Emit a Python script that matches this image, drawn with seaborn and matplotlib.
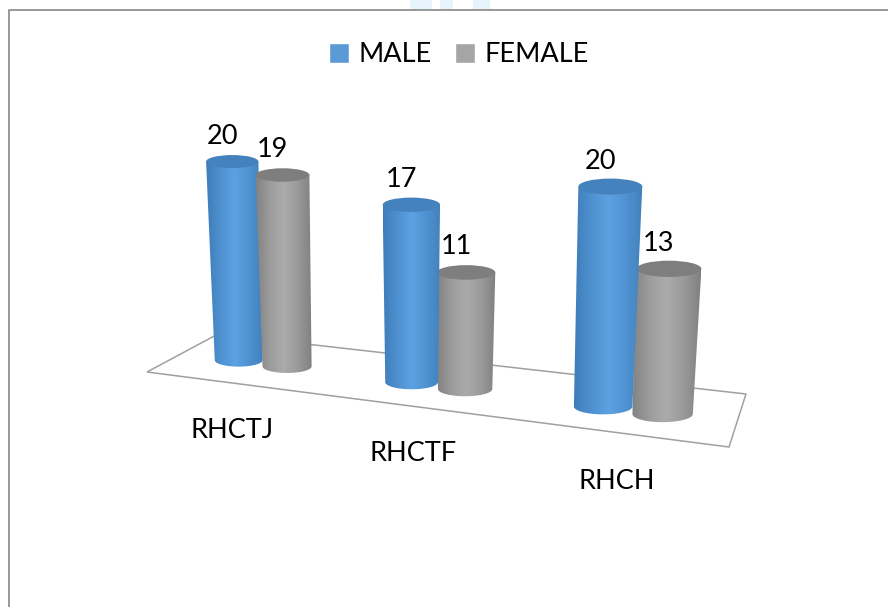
import matplotlib
matplotlib.use("Agg")
import matplotlib.pyplot as plt
import numpy as np
import pandas as pd
import seaborn as sns
from matplotlib.colors import LinearSegmentedColormap
from matplotlib.patches import Ellipse, Polygon, Rectangle

categories = ["RHCTJ", "RHCTF", "RHCH"]
male = [20, 17, 20]
female = [19, 11, 13]
series_names = ["MALE", "FEMALE"]

# one table per hue, long form for seaborn
df = pd.DataFrame({
    "group": categories * 2,
    "series": [series_names[0]] * 3 + [series_names[1]] * 3,
    "count": male + female,
})

sns.set_theme(style="white")
plt.rcParams["font.family"] = ["Lato", "DejaVu Sans"]

# camera fitted on the picture: category position + value -> pixel
PERSP = -0.0488
VANISH_X = 420
VANISH_DEPTH = 5640
TOP_PAD = 1.5


def project(w, v):
    s = 1 / (1 + PERSP * w)
    x = (154.1 * w + 262.5) * s
    base_y = 360 + (x - 237) * 0.127
    h = v * 10 * s
    return x + (x - VANISH_X) * h / VANISH_DEPTH, base_y - h


def cylinder(ax, w0, w1, value, cmap, top_color):
    wc = (w0 + w1) / 2
    xbl = project(w0, 0)[0]
    xbr = project(w1, 0)[0]
    yb = project(wc, 0)[1]
    xtl = project(w0, value)[0] - TOP_PAD
    xtr = project(w1, value)[0] + TOP_PAD
    yt = project(wc, value)[1]
    mid = (xbl + xbr) / 2
    z = 5 - abs(mid - VANISH_X) / 1000

    # side wall, rounded at the foot
    t = np.linspace(np.pi, 0, 40)
    foot_a = (xbr - xbl) / 2
    foot_x = mid + foot_a * np.cos(t)
    foot_y = yb + foot_a * 0.27 * np.sin(t)
    pts = np.vstack([[xtl, yt], np.column_stack([foot_x, foot_y]), [xtr, yt]])
    poly = Polygon(pts, closed=True, fc="none", ec="none", zorder=z)
    ax.add_patch(poly)
    grad = np.linspace(0, 1, 256).reshape(1, -1)
    im = ax.imshow(grad, cmap=cmap, aspect="auto", zorder=z,
                   extent=[min(xtl, xbl), max(xtr, xbr), foot_y.max() + 1, yt - 1])
    im.set_clip_path(poly)

    # lid
    lid = Ellipse(((xtl + xtr) / 2, yt), xtr - xtl, (xtr - xtl) * 0.25,
                  fc=top_color, ec="none", zorder=z + 0.0001)
    ax.add_patch(lid)
    return (xtl + xtr) / 2, yt


fig, ax = plt.subplots(figsize=(8.88, 6.07), dpi=100)
fig.subplots_adjust(left=0, right=1, bottom=0, top=1)

sns.barplot(data=df, x="group", y="count", hue="series", hue_order=series_names,
            palette=["#5b9bd5", "#a5a5a5"], width=0.58, gap=0, saturation=1, ax=ax)

cmaps = [
    LinearSegmentedColormap.from_list("blue", ["#3f7dba", "#4e90cf", "#5ea1e2", "#5093d2", "#4180bc"]),
    LinearSegmentedColormap.from_list("grey", ["#828282", "#9c9c9c", "#ababab", "#9a9a9a", "#808080"]),
]
lid_colors = ["#4482bd", "#7e7e7e"]

# barplot sets the geometry, the cylinders are built on top of each rectangle
marks = []
for container, cmap, lid_c in zip(ax.containers, cmaps, lid_colors):
    for bar in container:
        marks.append((bar.get_x(), bar.get_x() + bar.get_width(), bar.get_height(), cmap, lid_c))
        bar.set_visible(False)

for w0, w1, value, cmap, lid_c in marks:
    cx, cy = cylinder(ax, w0, w1, value, cmap, lid_c)
    ax.text(cx - 10, cy - 25.5, f"{value:.0f}", ha="center", va="center",
            fontsize=19.5, color="black", zorder=10)

# floor
floor = Polygon([(147, 372), (729, 447), (746, 394), (218, 334)], closed=True,
                fc="white", ec="#a0a0a0", lw=1.1, zorder=1)
ax.add_patch(floor)

# group names
label_dx = [-30, -25, -16]
label_dy = [67, 68, 71]
for i, name in enumerate(categories):
    x, y = project(i, 0)
    ax.text(x + label_dx[i], y + label_dy[i], name, ha="center", va="center", fontsize=19.5, color="black")

# chart frame: top and left edges
ax.plot([9, 9, 888], [607, 10, 10], color="#989898", lw=1.4, zorder=0.5)

# faint remains of the page behind the top edge
for x0, x1 in [(410, 432), (440, 453), (473, 490)]:
    ax.add_patch(Rectangle((x0, 0), x1 - x0, 8.5, fc="#e8f4fb", ec="none", zorder=0.4))

ax.set_xlim(0, 888)
ax.set_ylim(607, 0)
ax.set_axis_off()

sns.move_legend(ax, "center", bbox_to_anchor=(459 / 888, 1 - 55 / 607), ncol=2, title=None,
                frameon=False, fontsize=19.5, handlelength=0.74, handleheight=0.74,
                handletextpad=0.35, columnspacing=0.85)
for txt in ax.get_legend().get_texts():
    txt.set_color("black")

fig.savefig("out.png", dpi=100)
